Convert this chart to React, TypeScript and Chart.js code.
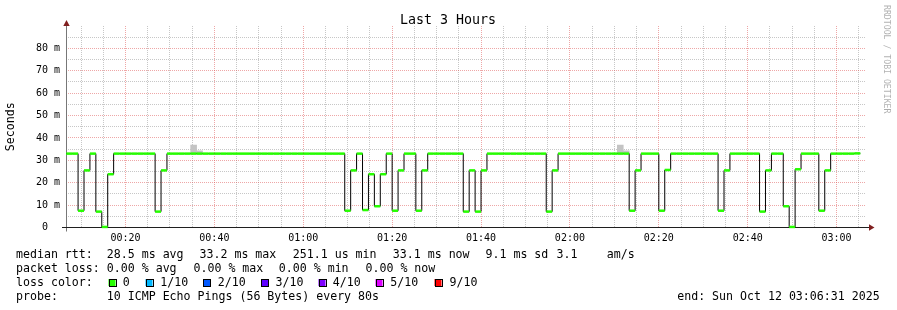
import React, { useEffect, useRef } from 'react';
import { Chart, registerables } from 'chart.js';

Chart.register(...registerables);

// ---- data ----
const startSec = 400; // first 80 s sample starts 00:06:40
const stepSec = 80;
const axisMinSec = 397; // 00:06:37
const axisMaxSec = 11197; // + 3 h

// median rtt per 80 s step, in ms
const medianMs = [
  33.0, 33.0, 7.5, 25.5, 33.0, 7.1, 0.25, 23.8, 33.0, 33.0,
  33.0, 33.0, 33.0, 33.0, 33.0, 7.1, 25.5, 33.0, 33.0, 33.0,
  33.0, 33.0, 33.0, 33.0, 33.0, 33.0, 33.0, 33.0, 33.0, 33.0,
  33.0, 33.0, 33.0, 33.0, 33.0, 33.0, 33.0, 33.0, 33.0, 33.0,
  33.0, 33.0, 33.0, 33.0, 33.0, 33.0, 33.0, 7.5, 25.5, 33.0,
  7.8, 23.8, 9.5, 23.8, 33.0, 7.5, 25.5, 33.0, 33.0, 7.5,
  25.5, 33.0, 33.0, 33.0, 33.0, 33.0, 33.0, 7.1, 25.5, 7.1,
  25.5, 33.0, 33.0, 33.0, 33.0, 33.0, 33.0, 33.0, 33.0, 33.0,
  33.0, 7.1, 25.5, 33.0, 33.0, 33.0, 33.0, 33.0, 33.0, 33.0,
  33.0, 33.0, 33.0, 33.0, 33.0, 7.5, 25.5, 33.0, 33.0, 33.0,
  7.5, 25.7, 33.0, 33.0, 33.0, 33.0, 33.0, 33.0, 33.0, 33.0,
  7.5, 25.5, 33.0, 33.0, 33.0, 33.0, 33.0, 7.1, 25.5, 33.0,
  33.0, 9.5, 0.25, 26.0, 33.0, 33.0, 33.0, 7.5, 25.5, 33.0,
  33.0, 33.0, 33.0, 33.1,
];

// smoke (ping spread) where visible
const smokeIndex = [21, 22, 93, 94];
const smokeLowMs = [33.0, 33.0, 33.0, 33.0];
const smokeHighMs = [36.8, 34.2, 36.8, 34.2];

// axis ticks
const yTickMs = [0, 5, 10, 15, 20, 25, 30, 35, 40, 45, 50, 55, 60, 65, 70, 75, 80, 85];
const xTickSec: number[] = [];
for (let s = 600; s <= 11100; s += 300) xTickSec.push(s);

// legend texts
const titleText = 'Last 3 Hours';
const yTitle = 'Seconds';
const rttTexts = ['median rtt:', '28.5 ms avg', '33.2 ms max', '251.1 us min', '33.1 ms now', '9.1 ms sd', '3.1', 'am/s'];
const lossTexts = ['packet loss:', '0.00 % avg', '0.00 % max', '0.00 % min', '0.00 % now'];
const lossColorTitle = 'loss color:';
const lossLabels = ['0', '1/10', '2/10', '3/10', '4/10', '5/10', '9/10'];
const lossColors = ['#26ff00', '#00b8ff', '#0059ff', '#5e00ff', '#7e00ff', '#dd00ff', '#ff0000'];
const probeTexts = ['probe:', '10 ICMP Echo Pings (56 Bytes) every 80s'];
const endText = 'end: Sun Oct 12 03:06:31 2025';
const creditText = 'RRDTOOL / TOBI OETIKER';

const MONO = '"DejaVu Sans Mono", monospace';
const GRID_MINOR = 'rgba(143,143,143,0.5)';
const GRID_MAJOR = 'rgba(222,79,79,0.5)';
const ARROW = '#801f1f';

function hhmm(sec: number) {
  const h = Math.floor(sec / 3600);
  const m = Math.floor((sec % 3600) / 60);
  return String(h).padStart(2, '0') + ':' + String(m).padStart(2, '0');
}

const decorPlugin = {
  id: 'rrdDecor',
  beforeDatasetsDraw(chart: any) {
    const ctx = chart.ctx as CanvasRenderingContext2D;
    const { left, right, top } = chart.chartArea;
    const y0 = chart.scales.y.getPixelForValue(0);
    ctx.save();
    ctx.lineWidth = 1;
    // y axis
    ctx.strokeStyle = '#777777';
    ctx.beginPath();
    ctx.moveTo(Math.round(left) + 0.5, Math.floor(y0) + 4.5);
    ctx.lineTo(Math.round(left) + 0.5, top - 3);
    ctx.stroke();
    // x axis
    ctx.strokeStyle = '#1f1f1f';
    ctx.beginPath();
    ctx.moveTo(left - 4, Math.floor(y0) + 0.5);
    ctx.lineTo(right + 4, Math.floor(y0) + 0.5);
    ctx.stroke();
    // arrows
    ctx.fillStyle = ARROW;
    const ax = Math.round(left) + 0.5;
    ctx.beginPath();
    ctx.moveTo(ax, top - 6);
    ctx.lineTo(ax - 3.2, top);
    ctx.lineTo(ax + 3.2, top);
    ctx.closePath();
    ctx.fill();
    const ay = Math.floor(y0) + 0.5;
    ctx.beginPath();
    ctx.moveTo(right + 8.5, ay);
    ctx.lineTo(right + 3, ay - 3.2);
    ctx.lineTo(right + 3, ay + 3.2);
    ctx.closePath();
    ctx.fill();
    ctx.restore();
  },
  afterDraw(chart: any) {
    const ctx = chart.ctx as CanvasRenderingContext2D;
    ctx.save();
    ctx.fillStyle = '#000';
    ctx.textBaseline = 'alphabetic';
    // title
    ctx.font = `13.3px ${MONO}`;
    ctx.textAlign = 'center';
    ctx.fillText(titleText, 448, 24.3);
    // legend
    ctx.textAlign = 'left';
    ctx.font = `11.6px ${MONO}`;
    const rttX = [16, 106.8, 199.5, 292.8, 392.8, 485.5, 556.5, 606.8];
    rttTexts.forEach((t, i) => ctx.fillText(t, rttX[i], 258.3));
    const lossX = [16, 106.8, 193.5, 278.8, 365.5];
    lossTexts.forEach((t, i) => ctx.fillText(t, lossX[i], 272));
    ctx.fillText(lossColorTitle, 16, 286);
    const boxX = [108.5, 145.5, 203, 261, 318.5, 375.5, 434.5];
    const labX = [122.8, 160.2, 217.8, 275.5, 332.8, 390.2, 449.5];
    lossLabels.forEach((t, i) => {
      ctx.fillStyle = lossColors[i];
      ctx.fillRect(boxX[i], 279, 7, 7);
      ctx.strokeStyle = '#000';
      ctx.lineWidth = 1;
      ctx.strokeRect(Math.round(boxX[i]) + 0.5, 279.5, 7, 7);
      ctx.fillStyle = '#000';
      ctx.fillText(t, labX[i], 286);
    });
    const probeX = [16, 106.8];
    probeTexts.forEach((t, i) => ctx.fillText(t, probeX[i], 300));
    ctx.fillText(endText, 677.2, 300);
    // credit
    ctx.save();
    ctx.font = `8.2px ${MONO}`;
    ctx.fillStyle = 'rgba(0,0,0,0.32)';
    ctx.translate(883.5, 5);
    ctx.rotate(Math.PI / 2);
    ctx.fillText(creditText, 0, 0);
    ctx.restore();
    ctx.restore();
  },
};

export default function App() {
  const ref = useRef<HTMLCanvasElement>(null);
  useEffect(() => {
    const canvas = ref.current;
    if (!canvas) return;
    const stepCenter = stepSec / 2;
    // points at the START of each step; step-"before" holds each value until the next point
    const blackPts = medianMs.map((v, i) => ({ x: startSec + i * stepSec, y: v }));
    blackPts.push({ x: startSec + medianMs.length * stepSec, y: medianMs[medianMs.length - 1] });
    const greenPts = medianMs.map((v, i) => ({ x: startSec + i * stepSec + stepCenter, y: v }));
    const smokePts = smokeIndex.map((idx, k) => ({
      x: startSec + idx * stepSec + stepCenter,
      y: [smokeLowMs[k], smokeHighMs[k]],
    }));
    const pxPerSec = 800 / (axisMaxSec - axisMinSec);
    const chart = new Chart(canvas, {
      type: 'line',
      data: {
        datasets: [
          {
            type: 'line',
            label: 'median (0 loss)',
            data: greenPts as any,
            showLine: false,
            pointStyle: 'line',
            pointRadius: (stepSec * pxPerSec) / 2,
            pointHoverRadius: (stepSec * pxPerSec) / 2,
            pointBorderWidth: 2.5,
            pointBorderColor: lossColors[0],
            pointBackgroundColor: lossColors[0],
            order: 0,
            clip: false as any,
          },
          {
            type: 'line',
            label: 'median',
            data: blackPts as any,
            stepped: 'before',
            borderColor: '#000000',
            borderWidth: 1,
            pointRadius: 0,
            fill: false,
            order: 1,
          },
          {
            type: 'bar',
            label: 'smoke',
            data: smokePts as any,
            backgroundColor: '#c4c4c4',
            borderWidth: 0,
            barThickness: stepSec * pxPerSec,
            order: 2,
          } as any,
        ],
      },
      options: {
        responsive: false,
        animation: false,
        devicePixelRatio: 1,
        events: [],
        layout: { padding: { left: 0, top: 26, right: 31, bottom: 62.5 } },
        plugins: {
          legend: { display: false },
          tooltip: { enabled: false },
          title: { display: false },
        },
        scales: {
          x: {
            type: 'linear',
            offset: false,
            min: axisMinSec,
            max: axisMaxSec,
            afterBuildTicks: (s: any) => {
              s.ticks = xTickSec.map((v) => ({ value: v }));
            },
            afterFit: (s: any) => {
              s.height = 20;
            },
            ticks: {
              autoSkip: false,
              maxRotation: 0,
              minRotation: 0,
              padding: 5,
              color: '#000',
              font: { family: MONO, size: 10 },
              callback: (v: any) => (Number(v) % 1200 === 0 ? hhmm(Number(v)) : ''),
            },
            grid: {
              offset: false,
              color: (c: any) => (c.tick && c.tick.value % 1200 === 0 ? GRID_MAJOR : GRID_MINOR),
              drawTicks: false,
              lineWidth: 1,
            },
            border: { display: false, dash: [1, 1] },
          },
          y: {
            type: 'linear',
            offset: false,
            min: 0,
            max: 90,
            afterBuildTicks: (s: any) => {
              s.ticks = yTickMs.map((v) => ({ value: v }));
            },
            afterFit: (s: any) => {
              s.width = 66;
            },
            ticks: {
              autoSkip: false,
              padding: 6,
              color: '#000',
              font: { family: MONO, size: 10 },
              callback: (v: any) => {
                const n = Number(v);
                if (n === 0) return '0  ';
                return n % 10 === 0 ? `${n} m` : '';
              },
            },
            grid: {
              offset: false,
              color: (c: any) => {
                const v = c.tick ? c.tick.value : 0;
                if (v === 0) return 'rgba(0,0,0,0)';
                return v % 10 === 0 ? GRID_MAJOR : GRID_MINOR;
              },
              drawTicks: false,
              lineWidth: 1,
            },
            border: { display: false, dash: [1, 1] },
            title: {
              display: true,
              text: yTitle,
              color: '#000',
              font: { family: MONO, size: 11.6 },
              padding: { top: 3.7, bottom: 0 },
            },
          },
        },
      },
      plugins: [decorPlugin],
    } as any);
    return () => chart.destroy();
  }, []);
  return (
    <div style={{ position: 'absolute', left: 0, top: 0, width: 897, height: 310, background: '#fff' }}>
      <canvas ref={ref} width={897} height={310} style={{ display: 'block', width: 897, height: 310 }} />
    </div>
  );
}
